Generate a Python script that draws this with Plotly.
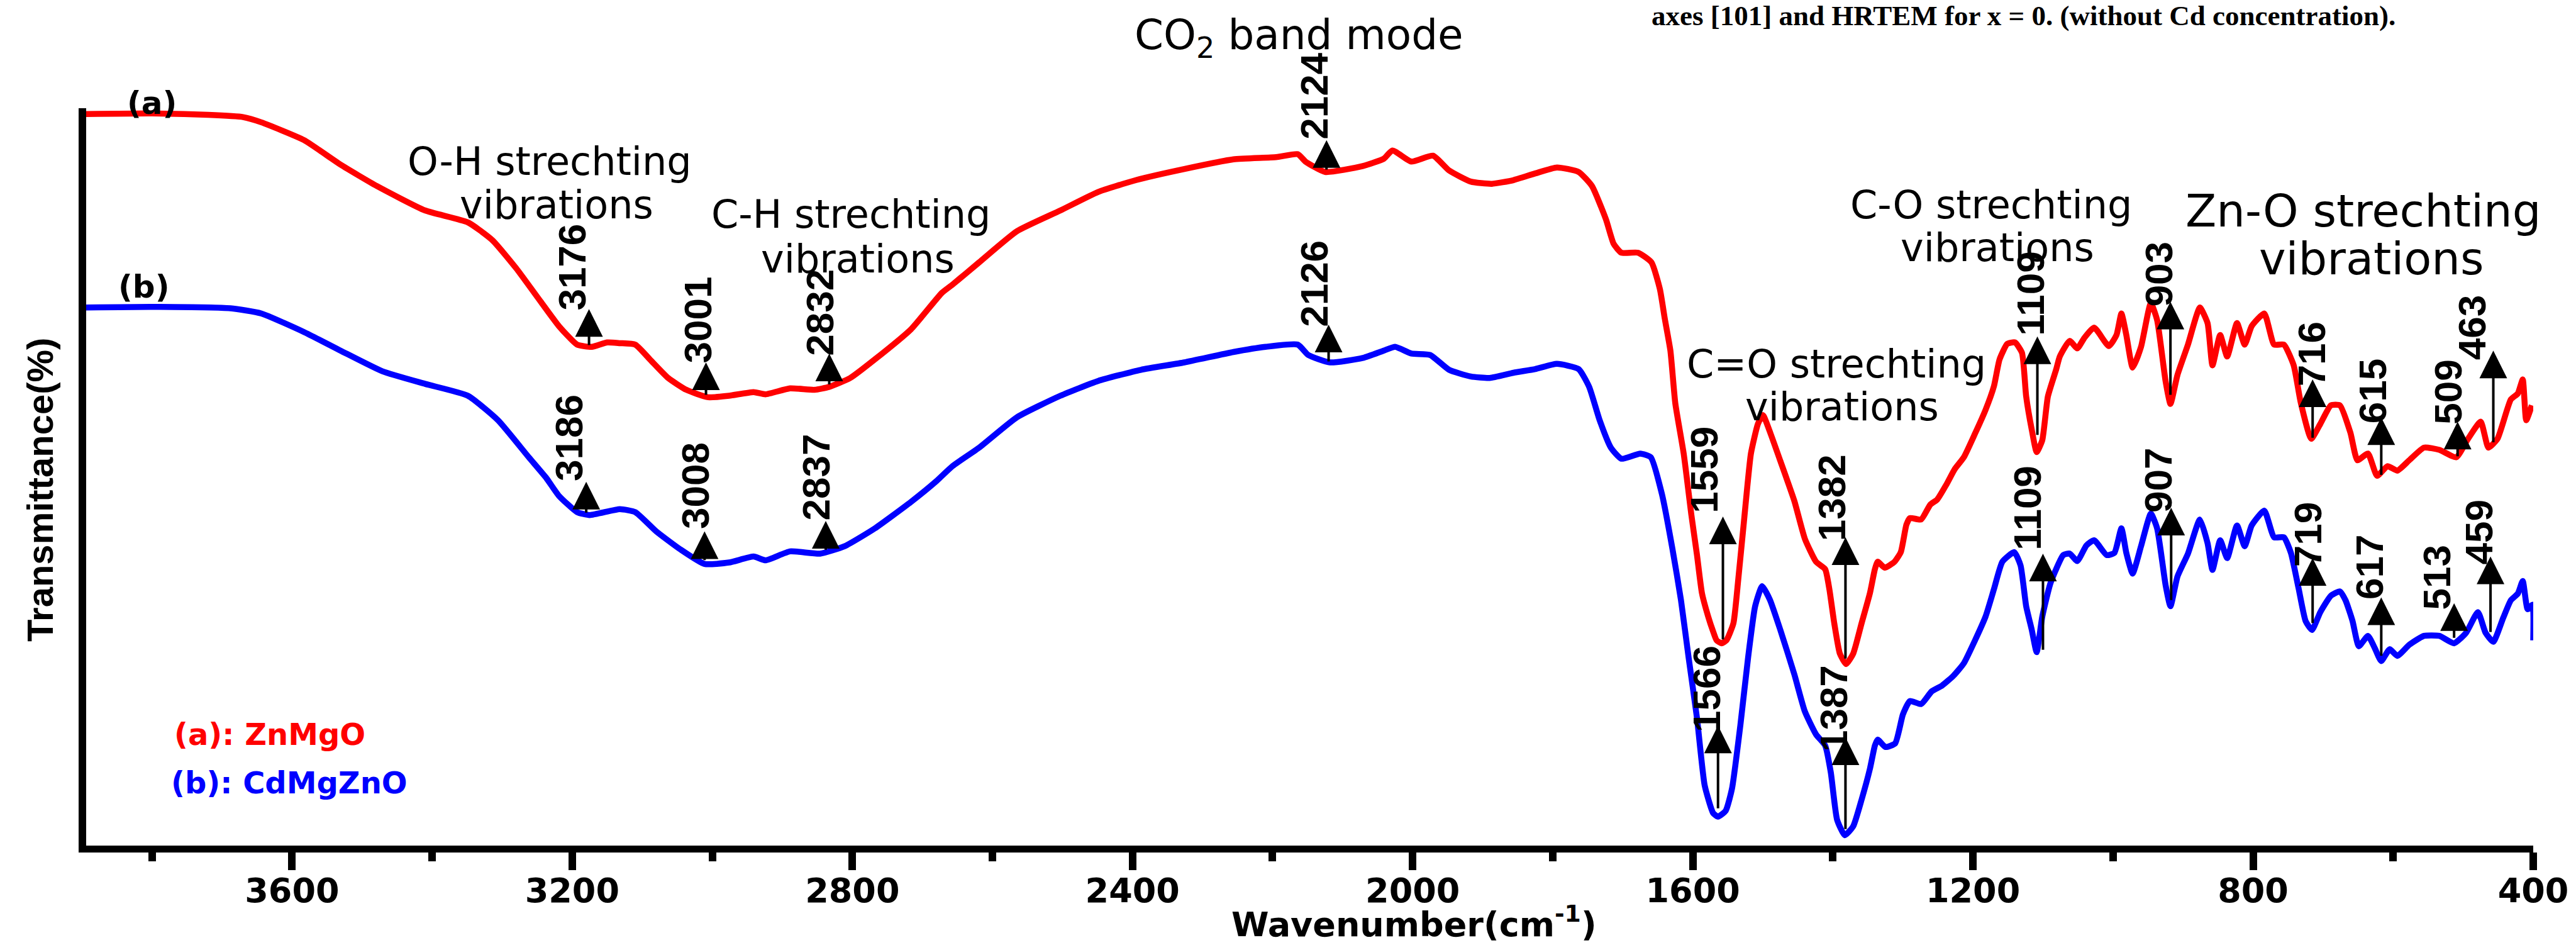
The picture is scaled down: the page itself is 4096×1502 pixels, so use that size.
import plotly.graph_objects as go

# ---------------- data ----------------
X_LEFT, X_RIGHT = 3894, 400
Y_MIN, Y_MAX = 0.5, 100

red_wn = [3900, 3800, 3720, 3670, 3644, 3583, 3531, 3479, 3410, 3349, 3314, 3280, 3245, 3219, 3193, 3172,
          3150, 3132, 3110, 3089, 3063, 3037, 3006, 2976, 2941, 2924, 2889, 2854, 2833, 2803, 2768, 2716,
          2672, 2657, 2619, 2565, 2503, 2449, 2395, 2326, 2256, 2195, 2164, 2153, 2125, 2071, 2041, 2029,
          2002, 1971, 1948, 1917, 1887, 1856, 1825, 1794, 1763, 1744, 1724, 1713, 1702, 1678, 1659, 1647,
          1640, 1632, 1625, 1613, 1602, 1594, 1587, 1578, 1571, 1566, 1559, 1552, 1542, 1535, 1527, 1517,
          1507, 1500, 1489, 1475, 1455, 1440, 1424, 1411, 1405, 1398, 1390, 1381, 1371, 1359, 1347, 1340,
          1336, 1326, 1312, 1303, 1295, 1290, 1274, 1261, 1251, 1238, 1226, 1213, 1197, 1182, 1170, 1162,
          1151, 1140, 1130, 1124, 1116, 1109, 1101, 1093, 1081, 1076, 1062, 1051, 1041, 1027, 1006, 995,
          988, 981, 972, 960, 946, 937, 925, 918, 908, 893, 876, 865, 858, 847, 837, 823, 812, 802, 784,
          770, 756, 742, 732, 717, 704, 689, 676, 661, 651, 636, 623, 608, 594, 577, 556, 534, 510, 493,
          475, 464, 451, 432, 422, 415, 410, 402]
red_T = [99.2, 99.3, 99.1, 98.8, 98.1, 95.7, 92.4, 89.5, 86.2, 84.6, 82.2, 78.4, 73.9, 70.6, 68.1, 67.8,
         68.4, 68.3, 68.1, 66.1, 63.6, 62.0, 61.0, 61.2, 61.7, 61.4, 62.2, 62.0, 62.4, 63.6, 66.1, 70.2,
         75.1, 76.2, 79.2, 83.4, 86.2, 88.7, 90.3, 91.8, 93.1, 93.4, 93.8, 92.8, 91.4, 92.2, 93.2, 94.3,
         92.8, 93.6, 91.6, 90.1, 89.8, 90.3, 91.2, 92.0, 91.4, 89.5, 85.0, 81.7, 80.5, 80.5, 79.2, 75.6,
         71.6, 67.3, 60.2, 53.4, 45.1, 39.7, 34.6, 31.4, 29.4, 28.2, 27.8, 28.2, 30.5, 36.5, 44.2, 53.4,
         57.4, 58.6, 56.1, 52.4, 47.0, 41.9, 38.8, 37.8, 35.1, 30.5, 26.4, 25.0, 26.4, 30.5, 34.6, 37.8,
         38.8, 38.0, 38.8, 40.1, 43.8, 44.7, 44.5, 46.5, 47.2, 49.2, 51.3, 52.9, 56.1, 59.3, 62.5, 66.1,
         68.2, 68.4, 67.0, 61.1, 56.6, 53.6, 55.2, 61.1, 64.8, 66.5, 68.6, 67.6, 69.0, 70.4, 67.9, 69.4,
         72.3, 69.4, 65.0, 67.8, 73.7, 71.4, 63.2, 60.1, 64.0, 68.1, 73.1, 71.0, 65.3, 69.4, 66.5, 71.0,
         68.1, 70.6, 72.3, 68.1, 68.1, 65.3, 60.3, 55.4, 57.4, 59.9, 59.9, 56.2, 52.5, 53.4, 50.4, 51.7,
         51.1, 52.5, 54.2, 53.9, 52.9, 55.4, 57.7, 54.2, 55.4, 60.7, 61.5, 63.4, 57.9, 59.9]

blue_wn = [3900, 3800, 3688, 3644, 3583, 3531, 3471, 3410, 3349, 3306, 3262, 3237, 3219, 3193, 3175, 3132,
           3110, 3080, 3046, 3011, 2976, 2941, 2924, 2889, 2846, 2811, 2768, 2716, 2681, 2657, 2619, 2565,
           2503, 2449, 2388, 2326, 2256, 2210, 2164, 2149, 2118, 2071, 2041, 2025, 2002, 1975, 1948, 1917,
           1890, 1856, 1825, 1794, 1763, 1748, 1733, 1717, 1702, 1675, 1660, 1644, 1629, 1617, 1606, 1594,
           1583, 1571, 1564, 1553, 1544, 1532, 1521, 1511, 1501, 1490, 1475, 1455, 1440, 1424, 1411, 1403,
           1394, 1383, 1371, 1359, 1347, 1340, 1336, 1325, 1311, 1300, 1290, 1274, 1259, 1244, 1228, 1213,
           1197, 1182, 1170, 1158, 1141, 1132, 1124, 1116, 1109, 1101, 1089, 1071, 1062, 1051, 1038, 1027,
           1009, 998, 988, 981, 972, 960, 946, 937, 925, 918, 908, 893, 876, 865, 858, 847, 837, 823, 812,
           802, 784, 770, 756, 746, 735, 725, 716, 704, 689, 676, 668, 658, 649, 636, 626, 617, 605, 594,
           577, 556, 534, 513, 496, 479, 468, 457, 443, 432, 422, 415, 408, 401, 400]
blue_T = [73.1, 73.2, 73.0, 72.3, 69.8, 67.3, 64.5, 62.8, 61.2, 57.9, 52.9, 50.1, 47.7, 45.5, 45.1, 45.9,
          45.5, 42.9, 40.5, 38.5, 38.7, 39.5, 39.0, 40.2, 39.9, 40.9, 43.3, 46.9, 49.6, 51.7, 54.2, 58.3,
          61.2, 63.2, 64.7, 65.7, 67.1, 67.8, 68.1, 66.7, 65.7, 66.3, 67.3, 67.8, 66.9, 66.7, 64.7, 63.8,
          63.6, 64.3, 64.8, 65.5, 64.8, 62.4, 57.9, 54.2, 52.7, 53.4, 52.9, 47.9, 40.5, 33.7, 25.9, 17.7,
          8.6, 4.9, 4.4, 5.2, 8.2, 16.8, 25.9, 32.8, 35.5, 33.7, 29.6, 23.6, 18.6, 15.5, 14.0, 10.4,
          4.0, 1.9, 3.1, 6.7, 10.9, 14.0, 14.8, 13.8, 14.3, 18.2, 20.0, 19.6, 21.3, 22.1, 23.4, 25.1,
          28.2, 31.4, 35.1, 38.8, 40.1, 38.3, 32.8, 29.6, 26.6, 31.4, 36.0, 39.7, 39.9, 38.9, 41.0, 41.7,
          39.7, 40.0, 43.3, 40.0, 37.2, 40.9, 45.3, 43.3, 35.7, 32.8, 36.8, 39.9, 44.5, 41.3, 37.7, 41.7,
          39.3, 43.7, 40.9, 43.7, 45.7, 42.1, 42.1, 40.0, 35.2, 30.8, 29.6, 32.0, 34.2, 34.8, 33.6, 30.8,
          27.4, 28.8, 27.1, 25.4, 27.0, 26.1, 27.6, 28.8, 28.8, 27.8, 29.2, 32.0, 29.2, 28.0, 31.2, 33.6,
          34.5, 36.2, 32.4, 33.0, 28.2]

# peak markers: label, arrow position, arrow tail/tip, label position (centre x, bottom y)
red_peaks = ["3176", "3001", "2832", "2124", "1559", "1382", "1109", "903", "716", "615", "509", "463"]
red_arrow_x = [3176, 3009, 2833, 2123, 1557, 1382, 1108, 918, 715, 617, 508, 457]
red_arrow_tail = [67.9, 61.2, 62.6, 91.6, 28.2, 25.6, 55.8, 61.2, 55.4, 50.4, 52.9, 54.8]
red_arrow_tip = [72.9, 65.7, 66.9, 95.7, 44.9, 42.1, 69.2, 73.9, 63.4, 58.3, 57.7, 67.3]
red_label_x = [3200, 3021, 2846, 2141, 1584, 1402, 1118, 935, 717, 630, 522, 488]
red_label_y = [72.6, 65.5, 66.5, 95.7, 45.3, 41.5, 69.2, 73.1, 62.4, 57.4, 57.2, 65.9]

blue_peaks = ["3186", "3008", "2837", "2126", "1566", "1387", "1109", "907", "719", "617", "513", "459"]
blue_arrow_x = [3180, 3011, 2838, 2120, 1564, 1382, 1100, 917, 715, 617, 513, 461]
blue_arrow_tail = [45.3, 38.9, 40.3, 65.7, 5.4, 2.6, 26.8, 33.5, 30.4, 26.0, 28.4, 29.2]
blue_arrow_tip = [49.6, 42.9, 44.3, 70.8, 16.7, 15.1, 39.9, 46.1, 39.3, 34.0, 33.2, 39.5]
blue_label_x = [3205, 3025, 2852, 2141, 1580, 1399, 1122, 935, 722, 634, 538, 478]
blue_label_y = [49.6, 43.1, 44.3, 70.4, 15.7, 13.1, 40.3, 45.3, 38.0, 33.6, 32.2, 38.3]

# band annotations: text, centre x (wavenumber), centre y (transmittance units), font size
band_texts = ["O-H strechting", "vibrations", "C-H strechting", "vibrations",
              "CO<sub>2</sub> band mode", "C-O strechting", "vibrations",
              "Zn-O strechting", "vibrations", "C=O strechting", "vibrations"]
band_x = [3232, 3222, 2802, 2792, 2162, 1174, 1165, 643, 631, 1395, 1387]
band_y = [92.8, 87.0, 85.7, 79.7, 109.5, 87.0, 81.2, 86.2, 79.7, 65.5, 59.7]
band_size = [62, 62, 62, 62, 66, 62, 62, 72, 72, 62, 62]

tick_vals = [3600, 3200, 2800, 2400, 2000, 1600, 1200, 800, 400]
tick_text = ["3600", "3200", "2800", "2400", "2000", "1600", "1200", "800", "400"]

RED = "#FF0000"
BLUE = "#0000FF"


def px(w):
    return (X_LEFT - w) / (X_LEFT - X_RIGHT)


def py(t):
    return (t - Y_MIN) / (Y_MAX - Y_MIN)


fig = go.Figure()
fig.add_trace(go.Scatter(x=red_wn, y=red_T, mode="lines",
                         line=dict(color=RED, width=9.5, shape="spline", smoothing=0.5),
                         showlegend=False, hoverinfo="skip", cliponaxis=False))
fig.add_trace(go.Scatter(x=blue_wn, y=blue_T, mode="lines",
                         line=dict(color=BLUE, width=9.5, shape="spline", smoothing=0.5),
                         showlegend=False, hoverinfo="skip", cliponaxis=False))

LABEL_FONT = dict(family="Liberation Sans, Arial, sans-serif", size=62, color="black")

for labels, axs, tails, tips, lxs, lys in [
        (red_peaks, red_arrow_x, red_arrow_tail, red_arrow_tip, red_label_x, red_label_y),
        (blue_peaks, blue_arrow_x, blue_arrow_tail, blue_arrow_tip, blue_label_x, blue_label_y)]:
    for lab, ax_, t0, t1, lx, ly in zip(labels, axs, tails, tips, lxs, lys):
        fig.add_annotation(x=ax_, y=t1, ax=ax_, ay=t0, xref="x", yref="y", axref="x", ayref="y",
                           text="", showarrow=True, arrowhead=2, arrowsize=2.2, arrowwidth=4,
                           arrowcolor="black", standoff=0, startstandoff=0)
        fig.add_annotation(x=px(lx), y=py(ly), xref="paper", yref="paper", text="<b>%s</b>" % lab,
                           textangle=-90, showarrow=False, xanchor="center", yanchor="bottom",
                           font=LABEL_FONT, borderpad=0)

for txt, bx, by, bs in zip(band_texts, band_x, band_y, band_size):
    fig.add_annotation(x=px(bx), y=py(by), xref="paper", yref="paper", text=txt, showarrow=False,
                       xanchor="center", yanchor="middle",
                       font=dict(family="DejaVu Sans, sans-serif", size=bs, color="black"))

# curve tags
fig.add_annotation(x=px(3800), y=py(100.7), xref="paper", yref="paper", text="<b>(a)</b>",
                   showarrow=False, xanchor="center", yanchor="middle",
                   font=dict(family="DejaVu Sans, sans-serif", size=50, color="black"))
fig.add_annotation(x=px(3811), y=py(75.9), xref="paper", yref="paper", text="<b>(b)</b>",
                   showarrow=False, xanchor="center", yanchor="middle",
                   font=dict(family="DejaVu Sans, sans-serif", size=50, color="black"))

# legend texts
fig.add_annotation(x=px(3770), y=py(15.5), xref="paper", yref="paper", text="<b>(a): ZnMgO</b>",
                   showarrow=False, xanchor="left", yanchor="middle",
                   font=dict(family="DejaVu Sans, sans-serif", size=48, color=RED))
fig.add_annotation(x=px(3775), y=py(9.0), xref="paper", yref="paper", text="<b>(b): CdMgZnO</b>",
                   showarrow=False, xanchor="left", yanchor="middle",
                   font=dict(family="DejaVu Sans, sans-serif", size=48, color=BLUE))

# axis titles
fig.add_annotation(x=px(1998), y=py(-9.8), xref="paper", yref="paper",
                   text="<b>Wavenumber(cm<sup>-1</sup>)</b>", showarrow=False,
                   xanchor="center", yanchor="middle",
                   font=dict(family="DejaVu Sans, sans-serif", size=54, color="black"))
fig.add_annotation(x=px(3960), y=py(48.5), xref="paper", yref="paper",
                   text="<b>Transmittance(%)</b>", textangle=-90, showarrow=False,
                   xanchor="center", yanchor="middle",
                   font=dict(family="Liberation Sans, Arial, sans-serif", size=58, color="black"))

# caption fragment at top
fig.add_annotation(x=px(1128), y=py(112.5), xref="paper", yref="paper",
                   text="<b>axes [101] and HRTEM for x = 0. (without Cd concentration).</b>",
                   showarrow=False, xanchor="center", yanchor="middle",
                   font=dict(family="Liberation Serif, Times New Roman, serif", size=45, color="black"))

fig.update_layout(
    width=4096, height=1502,
    margin=dict(l=137, r=60, t=172, b=158),
    paper_bgcolor="white", plot_bgcolor="white",
    showlegend=False,
)
fig.update_xaxes(range=[X_LEFT, X_RIGHT], showgrid=False, zeroline=False,
                 showline=True, linecolor="black", linewidth=11,
                 ticks="outside", ticklen=28, tickwidth=12, tickcolor="black",
                 tickvals=tick_vals, ticktext=tick_text, ticklabelstandoff=-14,
                 tickfont=dict(family="DejaVu Sans, sans-serif", size=54, color="black", weight="bold"),
                 minor=dict(ticks="outside", ticklen=14, tickwidth=12, tickcolor="black",
                            tick0=0, dtick=200))
fig.update_yaxes(range=[Y_MIN, Y_MAX], showgrid=False, zeroline=False,
                 showline=True, linecolor="black", linewidth=12,
                 showticklabels=False, ticks="")

fig.write_html("out.html")
